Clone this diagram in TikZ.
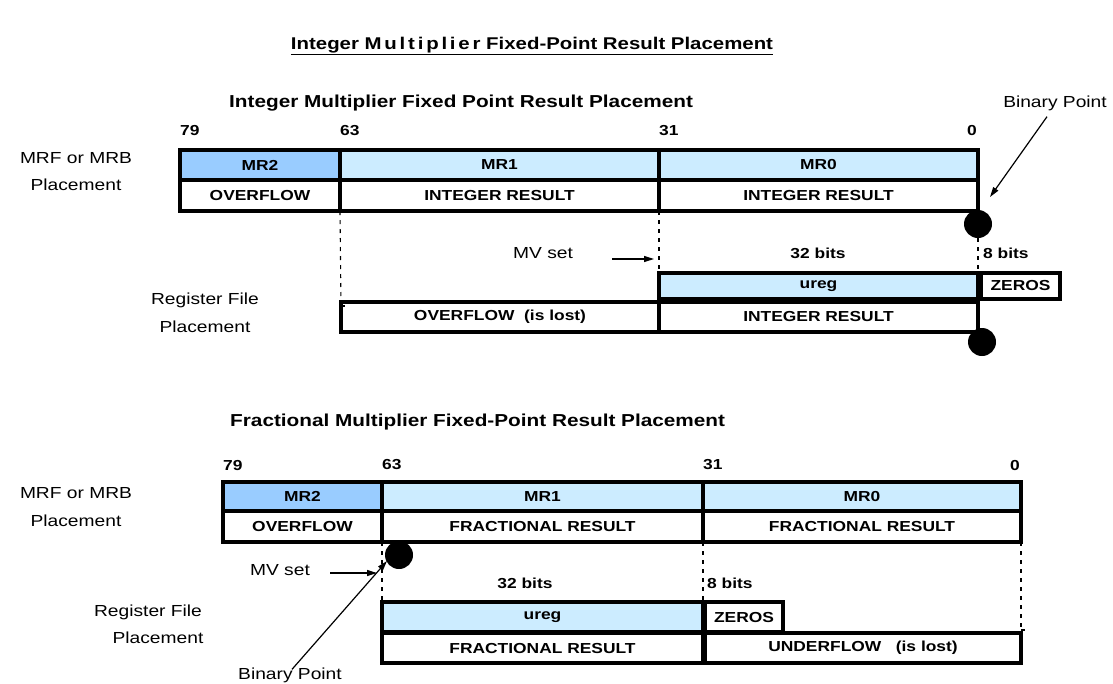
\documentclass[tikz,border=0pt]{standalone}
\usepackage{fontspec}
\setmainfont{Liberation Sans}[FakeStretch=1.2]
\usetikzlibrary{arrows.meta}
\definecolor{mrdark}{HTML}{99CCFF}
\definecolor{mrlight}{HTML}{CCECFF}
\begin{document}
\begin{tikzpicture}[x=1pt,y=-1pt,
  cell/.style={draw, line width=3.2pt, inner sep=0pt, outer sep=0pt, anchor=north west,
    font=\bfseries\fontsize{14.5}{16}\selectfont},
  wh/.style 2 args={minimum width=#1pt, minimum height=#2pt},
  bitlbl/.style={font=\bfseries\fontsize{14.5}{16}\selectfont, inner sep=0pt},
  plain/.style={font=\fontsize{16}{18}\selectfont, inner sep=0pt},
  head/.style={font=\bfseries\fontsize{17.3}{19}\selectfont, inner sep=0pt, anchor=west},
  dot/.style={circle, fill=black, minimum size=28pt, inner sep=0pt},
  dashline/.style={line width=1.1pt, dash pattern=on 4pt off 5pt},
  arr/.style={line width=1.2pt, -{Triangle[length=10pt,width=6pt]}}]
\useasboundingbox (0,0) rectangle (1113,683);

% title
\node[font=\bfseries\fontsize{17}{19}\selectfont, inner sep=0pt] (title) at (532,46)
  {\underline{Integer {\spaceskip=2.8pt M u l t i p l i e r} Fixed-Point Result Placement}};

% ---------------- top diagram ----------------
\node[head] (thead) at (229,103) {Integer Multiplier Fixed Point Result Placement};
\node[bitlbl, anchor=west] (t79) at (180,131) {79};
\node[bitlbl, anchor=west] (t63) at (340,131) {63};
\node[bitlbl, anchor=west] (t31) at (659,131) {31};
\node[bitlbl, anchor=east] (t0) at (977,131) {0};

\node[cell, fill=mrdark, wh={160}{30}] (tmr2) at (180,150) {MR2};
\node[cell, fill=mrlight, wh={319}{30}] (tmr1) at (340,150) {MR1};
\node[cell, fill=mrlight, wh={319}{30}] (tmr0) at (659,150) {MR0};
\node[cell, wh={160}{31}] (tov) at (180,180) {OVERFLOW};
\node[cell, wh={319}{31}] (tir1) at (340,180) {INTEGER RESULT};
\node[cell, wh={319}{31}] (tir0) at (659,180) {INTEGER RESULT};

\node[plain] (tmrf) at (76,158) {MRF or MRB};
\node[plain] (tpl1) at (76,185) {Placement};

\node[dot] (tdot1) at (978,224) {};
\node[plain] (tbp) at (1055,103) {Binary Point};
\coordinate (tbptip) at (990,197);
\draw[arr] ([xshift=-8pt,yshift=-6pt]tbp.south) -- (tbptip);

\node[plain] (tmv) at (543,253) {MV set};
\coordinate (tmvstart) at (612,259);
\coordinate (tmvtip) at (654,259);
\draw[arr] (tmvstart) -- (tmvtip);

\node[bitlbl] (t32) at (818,253) {32 bits};
\node[bitlbl, anchor=west] (t8) at (983,253) {8 bits};

\node[cell, fill=mrlight, wh={319}{26}] (tureg) at (659,273) {ureg};
\node[cell, wh={79}{26}] (tzer) at (981,273) {ZEROS};
\node[cell, wh={318}{30}] (tlost) at (341,302) {OVERFLOW\ \ (is lost)};
\node[cell, wh={319}{30}] (tir2) at (659,302) {INTEGER RESULT};
\node[dot] (tdot2) at (982,342) {};

\node[plain] (treg) at (205,300) {Register File};
\node[plain] (tpl2) at (205,327) {Placement};

\draw[dashline] (tov.south east) -- ([yshift=-4pt]tlost.north west);
\draw[line width=1.1pt] ([yshift=-4pt]tlost.north west) -- ++(4,0);
\draw[dashline] (tir0.south west) -- (tureg.north west);
\draw[dashline] (tdot1.south) -- (tureg.north east);

% ---------------- bottom diagram ----------------
\node[head] (bhead) at (230,422) {Fractional Multiplier Fixed-Point Result Placement};
\node[bitlbl, anchor=west] (b79) at (223,465) {79};
\node[bitlbl, anchor=west] (b63) at (382,465) {63};
\node[bitlbl, anchor=west] (b31) at (703,465) {31};
\node[bitlbl, anchor=east] (b0) at (1020,465) {0};

\node[cell, fill=mrdark, wh={159}{29}] (bmr2) at (223,482) {MR2};
\node[cell, fill=mrlight, wh={321}{29}] (bmr1) at (382,482) {MR1};
\node[cell, fill=mrlight, wh={318}{29}] (bmr0) at (703,482) {MR0};
\node[cell, wh={159}{31}] (bov) at (223,511) {OVERFLOW};
\node[cell, wh={321}{31}] (bfr1) at (382,511) {FRACTIONAL RESULT};
\node[cell, wh={318}{31}] (bfr0) at (703,511) {FRACTIONAL RESULT};

\node[plain] (bmrf) at (76,493) {MRF or MRB};
\node[plain] (bpl1) at (76,521) {Placement};

\node[dot] (bdot) at (399,555) {};
\node[plain] (bmv) at (280,570) {MV set};
\coordinate (bmvstart) at (330,573);
\coordinate (bmvtip) at (377,573);
\draw[arr] (bmvstart) -- (bmvtip);

\node[bitlbl] (b32) at (525,583) {32 bits};
\node[bitlbl, anchor=west] (b8) at (707,583) {8 bits};

\node[cell, fill=mrlight, wh={321}{30}] (bureg) at (382,602) {ureg};
\node[cell, wh={78}{30}] (bzer) at (705,602) {ZEROS};
\node[cell, wh={321}{30}] (bfr2) at (382,633) {FRACTIONAL RESULT};
\node[cell, wh={316}{30}] (bunder) at (705,633) {UNDERFLOW\ \ \ (is lost)};

\node[plain] (breg) at (148,612) {Register File};
\node[plain] (bpl2) at (158,638) {Placement};

\node[plain] (bbp) at (290,675) {Binary Point};
\coordinate (bbptip) at (387,561);
\draw[arr] ([xshift=2pt,yshift=-2pt]bbp.north) -- (bbptip);

\draw[dashline] (bov.south east) -- (bureg.north west);
\draw[dashline] (bfr0.south west) -- (bureg.north east);
\coordinate (bend) at (1021,630);
\draw[dashline] (bfr0.south east) -- (bend);
\draw[line width=1.1pt] (bend) -- ++(4,0);
\end{tikzpicture}
\end{document}
